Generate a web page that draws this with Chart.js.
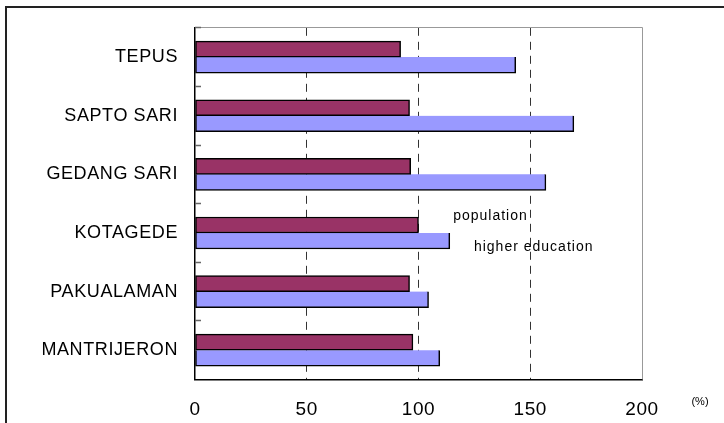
<!DOCTYPE html>
<html>
<head>
<meta charset="utf-8">
<script src="https://cdn.jsdelivr.net/npm/chart.js@4.4.1/dist/chart.umd.min.js"></script>
<style>
  html, body { margin: 0; padding: 0; background: #fff; }
  #wrap { position: relative; width: 724px; height: 423px; overflow: hidden; }
  #frame { position: absolute; left: 5px; top: 6px; width: 730px; height: 430px;
           border-left: 2px solid #222; border-top: 2px solid #222; }
  canvas { position: absolute; left: 0; top: 0; }
</style>
</head>
<body>
<div id="wrap">
  <div id="frame"></div>
  <canvas id="chart" width="724" height="423"></canvas>
</div>
<script>
// Districts, top to bottom
const districts = ['TEPUS', 'SAPTO SARI', 'GEDANG SARI', 'KOTAGEDE', 'PAKUALAMAN', 'MANTRIJERON'];
// Index values (%)
const population = [92, 96, 96.5, 100, 96, 97.5];
const higherEducation = [143.5, 169.5, 157, 114, 104.5, 109.5];
// Value axis ticks
const xTicks = [0, 50, 100, 150, 200];
const unitLabel = '(%)';

const FONT = "'Liberation Sans', Arial, sans-serif";

// Spaced-out lettering for the axis labels
const spacing = {
  id: 'spacing',
  beforeDraw(chart) { chart.ctx.letterSpacing = '0.6px'; }
};

// Plot frame (top and right edges) and short category dividers on the left axis
const frame = {
  id: 'frame',
  beforeDatasetsDraw(chart) {
    const { ctx, chartArea: a, scales: { y } } = chart;
    ctx.save();
    ctx.strokeStyle = '#999';
    ctx.lineWidth = 1;
    ctx.beginPath();
    ctx.moveTo(a.left, Math.floor(a.top) + 0.5);
    ctx.lineTo(a.right + 0.5, Math.floor(a.top) + 0.5);
    ctx.lineTo(a.right + 0.5, a.bottom);
    ctx.stroke();
    const half = (y.getPixelForValue(1) - y.getPixelForValue(0)) / 2;
    ctx.strokeStyle = '#666';
    ctx.lineWidth = 1.5;
    ctx.beginPath();
    for (let i = 0; i < districts.length; i++) {
      const yy = Math.floor(y.getPixelForValue(i) - half) + 0.5;
      ctx.moveTo(a.left, yy);
      ctx.lineTo(a.left + 6, yy);
    }
    ctx.stroke();
    ctx.restore();
  }
};

// Series names written beside the KOTAGEDE bars, plus the unit label
const notes = {
  id: 'notes',
  afterDatasetsDraw(chart) {
    const { ctx, chartArea: a, scales: { x, y } } = chart;
    const ds = chart.data.datasets;
    const row = y.getPixelForValue(3);
    ctx.save();
    ctx.letterSpacing = '1px';
    ctx.fillStyle = '#000';
    ctx.font = `14px ${FONT}`;
    ctx.textAlign = 'left';
    ctx.textBaseline = 'middle';
    ctx.fillText(ds[0].label, x.getPixelForValue(115.5), row - 17);
    ctx.fillText(ds[1].label, x.getPixelForValue(124.8), row + 14);
    ctx.font = `11px ${FONT}`;
    ctx.textAlign = 'center';
    ctx.letterSpacing = '0px';
    ctx.fillText(unitLabel, a.right + 58, a.bottom + 22);
    ctx.restore();
  }
};

new Chart(document.getElementById('chart'), {
  type: 'bar',
  data: {
    labels: districts,
    datasets: [
      {
        label: 'population',
        data: population,
        backgroundColor: '#993366',
        borderColor: '#000',
        borderWidth: 1.5,
        borderSkipped: false,
        barThickness: 16
      },
      {
        label: 'higher education',
        data: higherEducation,
        backgroundColor: '#9999FF',
        borderColor: '#000',
        borderWidth: { top: 0, right: 1.5, bottom: 1.5, left: 1.5 },
        borderSkipped: false,
        barThickness: 16
      }
    ]
  },
  options: {
    indexAxis: 'y',
    responsive: false,
    devicePixelRatio: 1,
    animation: false,
    layout: { padding: { left: 0, top: 25.5, right: 82, bottom: 0 } },
    plugins: {
      legend: { display: false },
      tooltip: { enabled: false }
    },
    scales: {
      x: {
        min: 0,
        max: 200,
        afterBuildTicks(s) { s.ticks = xTicks.map(v => ({ value: v })); },
        afterFit(s) { s.height = 43.5; },
        grid: {
          drawTicks: false,
          lineWidth: 1,
          color: c => (c.tick && c.tick.value > 0 && c.tick.value < 200) ? '#333' : 'rgba(0,0,0,0)'
        },
        border: { display: true, color: '#000', width: 1.5, dash: [8, 6] },
        ticks: {
          padding: 19,
          color: '#000',
          font: { family: FONT, size: 19 },
          maxRotation: 0
        }
      },
      y: {
        afterFit(s) { s.width = 195; },
        grid: { display: false, drawTicks: false },
        border: { display: true, color: '#000', width: 1.5 },
        ticks: {
          padding: 17,
          color: '#000',
          font: { family: FONT, size: 18 }
        }
      }
    }
  },
  plugins: [spacing, frame, notes]
});
</script>
</body>
</html>
